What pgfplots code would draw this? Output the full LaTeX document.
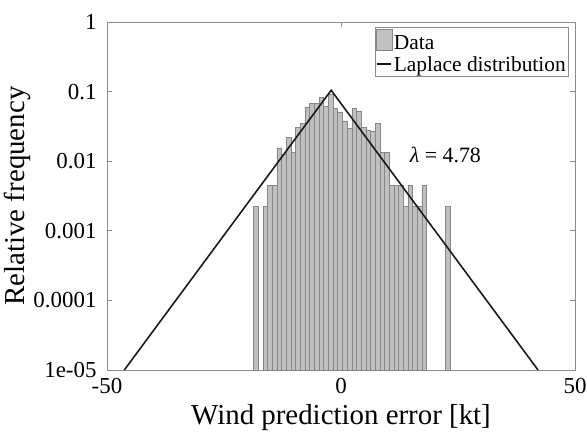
\documentclass[border=0pt]{standalone}
\usepackage{pgfplots}
\pgfplotsset{compat=1.18}
\usepackage{fontspec}
\setmainfont{Liberation Serif}
\definecolor{barfill}{RGB}{192,192,192}
\definecolor{baredge}{RGB}{135,135,135}
\definecolor{axgray}{RGB}{140,140,140}
\pgfplotsset{
  barleg/.style={legend image code/.code={\draw[##1] (0bp,-6.5bp) rectangle (16bp,14bp);}},
  lineleg/.style={legend image code/.code={\draw[##1] (0bp,1.5bp) -- (14bp,1.5bp);}},
}
\begin{document}
\begin{tikzpicture}
\useasboundingbox (-107bp,-62bp) rectangle (480bp,370bp);
\begin{axis}[
  at={(0,0)}, anchor=south west,
  scale only axis, width=468bp, height=348bp,
  ymode=log, xmin=-50, xmax=50, ymin=1e-5, ymax=1,
  log origin=infty,
  xtick={-50,0,50}, xticklabels={\textrm{-50},\textrm{0},\textrm{50}},
  ytick={1e-5,1e-4,1e-3,1e-2,1e-1,1},
  yticklabels={\textrm{1e-05},\textrm{0.0001},\textrm{0.001},\textrm{0.01},\textrm{0.1},\textrm{1}},
  yminorticks=false, xminorticks=false,
  tick align=inside, major tick length=5bp,
  axis line style={axgray, line width=0.7pt},
  every tick/.style={axgray, line width=0.7pt},
  tick label style={font=\fontsize{23}{25}\selectfont, black},
  xticklabel style={yshift=-5bp},
  yticklabel style={xshift=-7bp},
  xlabel={Wind prediction error [kt]},
  ylabel={Relative frequency},
  label style={font=\fontsize{29}{31}\selectfont},
  xlabel style={at={(axis description cs:0.5,-0.136)}, anchor=center},
  ylabel style={at={(axis description cs:-0.192,0.5)}, anchor=center},
  legend style={at={(0.985,0.986)}, anchor=north east, draw=axgray,
    font=\fontsize{21.5}{23}\selectfont, inner xsep=1bp, inner ysep=2bp, row sep=4bp,
    nodes={inner sep=1bp},
    cells={anchor=west}},
]
\addplot[ybar, bar width=1, bar shift=0pt, fill=barfill, draw=baredge, line width=0.5pt, barleg]
  table[row sep=\\] {
  x y \\
  -18.2 0.00225 \\
  -16.2 0.00225 \\
  -15.2 0.0045 \\
  -14.2 0.0045 \\
  -13.2 0.0155 \\
  -12.2 0.0124 \\
  -11.2 0.0222 \\
  -10.2 0.0134 \\
  -9.2 0.031 \\
  -8.2 0.0353 \\
  -7.2 0.060 \\
  -6.2 0.068 \\
  -5.2 0.067 \\
  -4.2 0.083 \\
  -3.2 0.061 \\
  -2.2 0.092 \\
  -1.2 0.057 \\
  -0.2 0.050 \\
  0.8 0.038 \\
  1.8 0.030 \\
  2.8 0.057 \\
  3.8 0.053 \\
  4.8 0.031 \\
  5.8 0.028 \\
  6.8 0.027 \\
  7.8 0.035 \\
  8.8 0.0135 \\
  9.8 0.0135 \\
  10.8 0.0045 \\
  11.8 0.0045 \\
  12.8 0.0045 \\
  13.8 0.00225 \\
  14.8 0.0045 \\
  15.8 0.00225 \\
  16.8 0.00225 \\
  17.8 0.0045 \\
  22.8 0.00225 \\
  };
\addlegendentry{Data}
\addplot[black!90, line width=1.6pt, mark=none, lineleg]
  coordinates {(-46.3,1e-5) (-2.1,0.1046) (42.1,1e-5)};
\addlegendentry{Laplace distribution}
\node[font=\fontsize{22}{24}\selectfont] at (axis cs:22.3,0.0125) {\textit{λ} = 4.78};
\end{axis}
\end{tikzpicture}
\end{document}
